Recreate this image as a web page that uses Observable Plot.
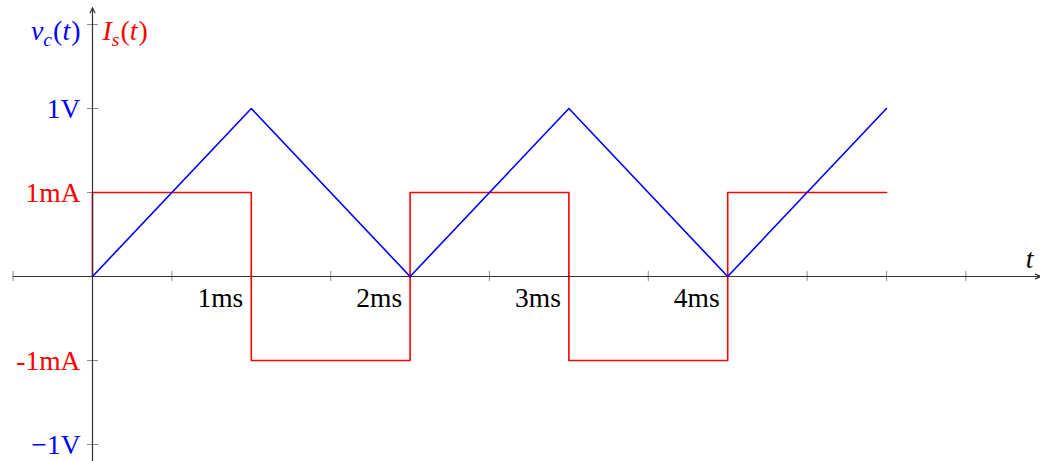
<!DOCTYPE html>
<html>
<head>
<meta charset="utf-8">
<script src="https://cdn.jsdelivr.net/npm/d3@7"></script>
<script src="https://cdn.jsdelivr.net/npm/@observablehq/plot@0.6"></script>
<style>
  body { margin: 0; background: #fff; }
  svg { display: block; }
  svg text { font-family: "Liberation Serif", "DejaVu Serif", serif !important; }
</style>
</head>
<body>
<div id="chart"></div>
<script>
// Capacitor voltage (V): corners of the triangle wave, time in ms
const vTime = [0, 1, 2, 3, 4, 5];
const vVolts = [0, 1, 0, 1, 0, 1];

// Source current (mA): breakpoints of the square wave, each level held until the next time
const iTime = [0, 0, 1, 2, 3, 4, 5];
const iMilliamps = [0, 1, -1, 1, -1, 1, 1];

// Axis ticks and labels
const timeTicks = [-0.5, 0.5, 1, 1.5, 2, 2.5, 3, 3.5, 4, 4.5, 5, 5.5];
const timeLabelTicks = [1, 2, 3, 4];
const timeLabels = ["1ms", "2ms", "3ms", "4ms"];
const voltTicks = [-1, 1];
const voltLabels = ["\u22121V", "1V"];
const ampTicks = [-1, 1];
const ampLabels = ["-1mA", "1mA"];
const headerTick = 1.5;
const voltTitle = "v_c(t)";
const ampTitle = "I_s(t)";

// One shared vertical scale: 1 V per unit, 1 mA per half unit
const unitsPerMilliamp = 0.5;

const voltage = vTime.map((t, k) => ({t, v: vVolts[k]}));
const current = iTime.map((t, k) => ({t, y: iMilliamps[k] * unitsPerMilliamp}));
const yTicks = [...voltTicks, ...ampTicks.map(a => a * unitsPerMilliamp), headerTick];

const xDomain = [-0.5793, 5.9698];
const yDomain = [-1.1012, 1.6429];

const font = "Liberation Serif";
const axisColor = "#333";
const tickColor = "#8a8a8a";
const fs = 27.5;
const titleFs = 28;

const chart = Plot.plot({
  width: 1040,
  height: 461,
  margin: 0,
  x: {domain: xDomain, range: [0, 1040], axis: null},
  y: {domain: yDomain, range: [461, 0], axis: null},
  style: {background: "#fff"},
  marks: [
    // tick marks crossing the axes
    Plot.ruleX(timeTicks, {x: d => d, y1: 0, y2: 0, insetTop: -5, insetBottom: -5, stroke: tickColor, strokeWidth: 1}),
    Plot.ruleY(yTicks, {y: d => d, x1: 0, x2: 0, insetLeft: -5, insetRight: -6, stroke: tickColor, strokeWidth: 1}),
    // current square wave
    Plot.line(current, {x: "t", y: "y", curve: "step-after", stroke: "#ff0000", strokeWidth: 1.6}),
    // axes with arrowheads
    Plot.arrow([0], {x1: -0.5, y1: 0, x2: xDomain[1], y2: 0, stroke: axisColor, strokeWidth: 1.2, headLength: 7, headAngle: 50}),
    Plot.arrow([0], {x1: 0, y1: yDomain[0], x2: 0, y2: 1.6, stroke: axisColor, strokeWidth: 1.2, headLength: 7, headAngle: 50}),
    // capacitor voltage triangle wave
    Plot.line(voltage, {x: "t", y: "v", stroke: "#0000ff", strokeWidth: 1.6}),
    // time labels below the axis
    Plot.text(timeLabelTicks, {x: d => d, y: 0, text: (d, k) => timeLabels[k], textAnchor: "end", dx: -8, dy: 22, fontSize: fs, fontFamily: font, fill: "#000"}),
    // vertical axis labels
    Plot.text(voltTicks, {x: 0, y: d => d, text: (d, k) => voltLabels[k], textAnchor: "end", dx: -12, dy: 1, fontSize: fs, fontFamily: font, fill: "#0000ff"}),
    Plot.text(ampTicks, {x: 0, y: d => d * unitsPerMilliamp, text: (d, k) => ampLabels[k], textAnchor: "end", dx: -12, dy: 1, fontSize: fs, fontFamily: font, fill: "#ff0000"}),
    // series titles at the top of the vertical axis
    Plot.text([voltTitle], {x: 0, y: headerTick, text: d => d, textAnchor: "end", dx: -12, dy: 7, fontSize: titleFs, fontFamily: font, fill: "#0000ff"}),
    Plot.text([ampTitle], {x: 0, y: headerTick, text: d => d, textAnchor: "start", dx: 10, dy: 7, fontSize: titleFs, fontFamily: font, fill: "#ff0000"}),
    // time axis name
    Plot.text(["t"], {frameAnchor: "right", y: 0, text: d => d, textAnchor: "end", dx: -7, dy: -17, fontSize: fs, fontFamily: font, fontStyle: "italic", fill: "#000"})
  ]
});

document.getElementById("chart").append(chart);

// Typeset "x_s(t)" titles: italic symbol, italic subscript, upright parentheses
d3.select(chart).selectAll("text").each(function () {
  const content = this.textContent;
  const m = /^(.)_(.)\((.)\)$/.exec(content);
  if (!m) return;
  const el = d3.select(this);
  el.text(null);
  el.append("tspan").attr("font-style", "italic").text(m[1]);
  el.append("tspan").attr("font-style", "italic").attr("font-size", "70%").attr("dy", 6).text(m[2]);
  el.append("tspan").attr("dy", -6).attr("dx", 1).text("(");
  el.append("tspan").attr("font-style", "italic").text(m[3]);
  el.append("tspan").attr("dx", 1).text(")");
});
</script>
</body>
</html>
